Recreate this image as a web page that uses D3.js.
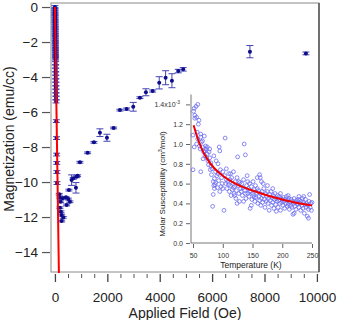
<!DOCTYPE html>
<html>
<head>
<meta charset="utf-8">
<script src="https://cdn.jsdelivr.net/npm/d3@7"></script>
<style>
  body { margin: 0; background: #fff; }
  text { font-family: "Liberation Sans", Arial, sans-serif; }
</style>
</head>
<body>
<div id="chart"></div>
<script>
// low field points, they sit on the linear fit
const lowField = [0, 1, 2, 2, 3, 4, 5, 6, 6, 7, 8, 9, 10, 10, 11, 12, 13, 14, 14, 15, 16, 17, 18, 18, 19, 20, 21, 22, 22, 23,
  24, 26, 27, 29, 30, 32, 34, 35, 37, 38, 40, 42, 43, 52, 60, 67, 71, 75, 80]
const lowMag = [0, -0.1, -0.2, -0.3, -0.4, -0.5, -0.6, -0.7, -0.8, -0.9, -1.0, -1.1, -1.2, -1.3, -1.4, -1.5, -1.6, -1.7, -1.8, -1.9,
  -2.0, -2.1, -2.2, -2.3, -2.4, -2.5, -2.6, -2.7, -2.8, -2.9,
  -3.0, -3.2, -3.4, -3.6, -3.8, -4.0, -4.2, -4.4, -4.6, -4.8, -5.0, -5.2, -5.4, -6.52, -7.49, -8.43, -8.91, -9.43, -10.06]

const field = [164, 191, 294, 420, 508, 573, 447, 218, 191, 229, 256, 317, 256, 534, 637, 699, 828, 866, 802,
  954, 1248, 1489, 1718, 1985, 2240, 2481, 2737, 2989, 3244, 3473, 3729, 3981, 4225, 4466, 4706, 4897, 7443, 9581]
const mag = [-10.70, -10.90, -10.93, -10.87, -10.97, -11.13, -11.31, -11.13, -11.47, -11.70, -11.89, -12.02, -12.23, -10.46, -9.89, -9.79, -9.70, -9.64, -10.33,
  -8.87, -8.33, -7.73, -7.18, -7.47, -6.91, -5.89, -5.83, -5.70, -5.18, -4.87, -4.80, -4.33, -4.04, -4.21, -3.66, -3.56, -2.55, -2.65]
const magErr = [0.05, 0.05, 0.05, 0.05, 0.05, 0.05, 0.05, 0.05, 0.05, 0.05, 0.05, 0.05, 0.05, 0.05, 0.3, 0.05, 0.05, 0.05, 0.3,
  0.05, 0.05, 0.05, 0.22, 0.2, 0.05, 0.05, 0.06, 0.25, 0.05, 0.2, 0.06, 0.35, 0.4, 0.4, 0.1, 0.1, 0.35, 0.08]

const fitField = [0, 152]
const fitMag = [0, -15.2]

const xTicks = [0, 2000, 4000, 6000, 8000, 10000]
const yTicks = [0, -2, -4, -6, -8, -10, -12, -14]

// inset: molar susceptibility vs temperature
const chiPts = [
  [51,1.33],[52,1.36],[53,1.29],[55,1.38],[58,1.40],[56,1.27],[60,1.24],[59,1.20],[53,1.26],[50,1.09],[52,0.97],[56,1.00],
  [63,1.10],[63,1.07],[64,1.02],[50,0.74],[57,1.12],[61,0.98],[58,1.05],[62,0.95],
  [66,0.97],[68,0.92],[70,0.88],[72,0.95],[74,0.90],[75,0.83],[66,1.03],[69,1.08],[71,0.98],[73,0.86],[76,0.79],[77,0.92],
  [78,0.86],[79,0.74],[80,0.81],[67,0.85],[74,0.97],[78,0.95],[80,0.78],[70,0.93],[63,0.72],
  [81,0.69],[82,0.75],[84,0.62],[85,0.58],[86,0.65],[87,0.59],[88,0.72],[90,0.68],[91,0.56],[92,0.80],[93,0.63],[94,0.97],
  [95,0.93],[96,0.74],[97,0.57],[98,0.66],[99,0.60],[84,0.49],[83,0.37],[86,0.55],[89,0.83],[92,0.70],[95,0.52],[100,0.72],
  [100,0.55],[85,0.88],[88,0.61],
  [102,0.33],[104,1.06],[103,0.68],[105,0.60],[106,0.75],[107,0.55],[108,0.62],[110,0.70],[111,0.52],[112,0.64],[113,0.58],
  [114,0.48],[115,0.66],[116,0.54],[117,0.60],[118,0.72],[119,0.50],[120,0.57],[121,0.62],[122,0.45],[123,0.53],[124,0.66],
  [125,0.87],[126,0.58],[127,0.50],[128,0.42],[129,0.61],[130,0.55],[124,0.40],[110,0.59],[118,0.56],[106,0.64],[113,0.70],
  [127,0.62],[120,0.48],
  [131,0.52],[132,0.60],[133,0.48],[134,0.56],[135,0.64],[136,1.00],[137,0.53],[138,0.89],[139,0.45],[140,0.58],[141,0.68],
  [142,0.50],[143,0.55],[144,0.47],[145,0.60],[146,0.35],[147,0.52],[148,0.57],[149,0.44],[150,0.50],[151,0.62],[152,0.48],
  [153,0.54],[154,0.42],[155,0.58],[156,0.46],[157,0.51],[158,0.66],[159,0.40],[160,0.53],[135,0.42],[142,0.62],[148,0.38],
  [153,0.46],[158,0.55],[138,0.50],[145,0.52],[162,0.69],[163,0.66],[165,0.62],
  [161,0.47],[162,0.43],[163,0.50],[164,0.38],[165,0.45],[166,0.52],[167,0.41],[168,0.48],[169,0.55],[170,0.44],[171,0.36],
  [172,0.50],[173,0.42],[174,0.47],[175,0.58],[176,0.40],[177,0.45],[178,0.33],[179,0.49],[180,0.43],[181,0.52],[182,0.38],
  [183,0.46],[184,0.41],[185,0.48],[186,0.35],[187,0.44],[188,0.50],[189,0.39],[190,0.45],[191,0.42],[192,0.48],[193,0.36],
  [194,0.43],[195,0.47],[196,0.40],[197,0.33],[198,0.45],[199,0.41],[200,0.44],[168,0.60],[175,0.52],[184,0.55],[190,0.32],
  [197,0.50],
  [201,0.38],[202,0.46],[203,0.42],[204,0.35],[205,0.44],[206,0.40],[207,0.47],[208,0.37],[209,0.43],[210,0.39],[211,0.45],
  [212,0.34],[213,0.41],[214,0.38],[215,0.44],[216,0.36],[217,0.42],[218,0.29],[219,0.40],[220,0.45],[221,0.37],[222,0.41],
  [223,0.34],[224,0.43],[225,0.40],[226,0.39],[227,0.44],[228,0.36],[229,0.43],[230,0.40],[231,0.33],[232,0.42],[233,0.38],
  [234,0.45],[235,0.35],[236,0.41],[237,0.30],[238,0.39],[239,0.44],[240,0.36],[241,0.40],[242,0.27],[243,0.38],[244,0.34],
  [245,0.42],[246,0.49],[247,0.36],[248,0.40],[249,0.33],[250,0.41],[244,0.25],[236,0.47],[210,0.48],[228,0.47],[220,0.30]
]
const curveT = [51, 60, 67, 75, 85, 100, 115, 130, 150, 175, 200, 225, 250]
const curveChi = [1.19, 1.02, 0.92, 0.84, 0.76, 0.68, 0.62, 0.575, 0.53, 0.48, 0.44, 0.405, 0.38]
const insetXTicks = [50, 100, 150, 200, 250]
const insetYTicks = [0, 0.2, 0.4, 0.6, 0.8, 1.0, 1.2, 1.4]

const width = 338
const height = 320

const svg = d3.select("#chart").append("svg")
    .attr("width", width)
    .attr("height", height)

const x = d3.scaleLinear().domain([-150, 10080]).range([51, 319])
const y = d3.scaleLinear().domain([0.23, -15.14]).range([3, 272])

const dark = "#0c0c8c"
const errCol = "#4444b4"

// frame
svg.append("rect")
    .attr("x", 51).attr("y", 3)
    .attr("width", 268).attr("height", 269)
    .attr("fill", "none")
    .attr("stroke", "#8a8a8a")
    .attr("stroke-width", 1)
svg.append("line")
    .attr("x1", 319).attr("x2", 319).attr("y1", 3).attr("y2", 272)
    .attr("stroke", "#555").attr("stroke-width", 1.5)

// x axis with minor ticks
const xMinor = d3.range(0, 10001, 500).filter(d => d % 2000 != 0)
svg.append("g")
    .attr("transform", "translate(0,274)")
    .call(d3.axisBottom(x).tickValues(xMinor).tickSize(4).tickFormat(""))
    .call(g => g.select(".domain").remove())
    .selectAll("line").attr("stroke", "#555")
svg.append("g")
    .attr("class", "xaxis")
    .attr("transform", "translate(0,274)")
    .call(d3.axisBottom(x).tickValues(xTicks).tickSize(8).tickPadding(10).tickFormat(d3.format("d")))
    .call(g => g.select(".domain").remove())
svg.select(".xaxis").selectAll("line").attr("stroke", "#444").attr("stroke-width", 1.3)
svg.select(".xaxis").selectAll("text")
    .style("font-size", "13.5px").attr("fill", "#222")

svg.append("g")
    .attr("class", "yaxis")
    .attr("transform", "translate(50,0)")
    .call(d3.axisLeft(y).tickValues(yTicks).tickSize(8).tickPadding(4).tickFormat(d3.format("d")))
    .call(g => g.select(".domain").remove())
svg.select(".yaxis").selectAll("line").attr("stroke", "#555").attr("stroke-width", 1.2)
svg.select(".yaxis").selectAll("text")
    .style("font-size", "13.5px").attr("fill", "#222")

svg.append("text")
    .attr("x", 185).attr("y", 318)
    .attr("text-anchor", "middle")
    .style("font-size", "14px").attr("fill", "#222")
    .text("Applied Field (Oe)")
svg.append("text")
    .attr("transform", "translate(14,139) rotate(-90)")
    .attr("text-anchor", "middle")
    .style("font-size", "14px").attr("fill", "#222")
    .text("Magnetization (emu/cc)")

// data points
const lowData = lowField.map((h, i) => ({h: h, m: lowMag[i], e: 0.08}))
const mainData = field.map((h, i) => ({h: h, m: mag[i], e: magErr[i]}))
const allPts = lowData.concat(mainData)

const plot = svg.append("g")
const bars = plot.selectAll(".err")
    .data(allPts)
    .enter()
    .append("g")
    .attr("class", "err")
    .attr("stroke", errCol)
    .attr("stroke-width", 1)
bars.append("line")
    .attr("x1", d => x(d.h)).attr("x2", d => x(d.h))
    .attr("y1", d => y(d.m - d.e)).attr("y2", d => y(d.m + d.e))
bars.append("line")
    .attr("x1", d => x(d.h) - 3.5).attr("x2", d => x(d.h) + 3.5)
    .attr("y1", d => y(d.m - d.e)).attr("y2", d => y(d.m - d.e))
bars.append("line")
    .attr("x1", d => x(d.h) - 3.5).attr("x2", d => x(d.h) + 3.5)
    .attr("y1", d => y(d.m + d.e)).attr("y2", d => y(d.m + d.e))

plot.selectAll(".pt")
    .data(allPts)
    .enter()
    .append("circle")
    .attr("class", "pt")
    .attr("cx", d => x(d.h))
    .attr("cy", d => y(d.m))
    .attr("r", 2)
    .attr("fill", dark)

// linear fit
svg.append("path")
    .datum(fitField.map((h, i) => [h, fitMag[i]]))
    .attr("fill", "none")
    .attr("stroke", "#ff0000")
    .attr("stroke-width", 2)
    .attr("d", d3.line().x(d => x(d[0])).y(d => y(d[1])))

// ---- inset ----
const xi = d3.scaleLinear().domain([46.6, 250]).range([191, 312])
const yi = d3.scaleLinear().domain([0, 1.5]).range([243, 94.5])

const inset = svg.append("g")
inset.append("line")
    .attr("x1", 191).attr("x2", 191).attr("y1", 94.5).attr("y2", 243)
    .attr("stroke", "#777")
inset.append("line")
    .attr("x1", 191).attr("x2", 312).attr("y1", 243).attr("y2", 243)
    .attr("stroke", "#777")

inset.append("g")
    .attr("class", "ix")
    .attr("transform", "translate(0,244)")
    .call(d3.axisBottom(xi).tickValues(insetXTicks).tickSize(4).tickPadding(5).tickFormat(d3.format("d")))
    .call(g => g.select(".domain").remove())
inset.append("g")
    .attr("class", "iy")
    .attr("transform", "translate(190,0)")
    .call(d3.axisLeft(yi).tickValues(insetYTicks).tickSize(4).tickPadding(3)
        .tickFormat(d => d == 1.4 ? "" : d3.format(".1f")(d)))
    .call(g => g.select(".domain").remove())
inset.selectAll(".ix line, .iy line").attr("stroke", "#666")
inset.selectAll(".ix text, .iy text").style("font-size", "7px").attr("fill", "#333")

const topLab = inset.append("text")
    .attr("x", 180).attr("y", yi(1.4) + 2.5)
    .attr("text-anchor", "end")
    .style("font-size", "7px").attr("fill", "#333")
topLab.append("tspan").text("1.4x10")
topLab.append("tspan").attr("dy", -3).style("font-size", "5px").text("-3")

inset.append("text")
    .attr("x", 251).attr("y", 268)
    .attr("text-anchor", "middle")
    .style("font-size", "8.5px").attr("fill", "#222")
    .text("Temperature (K)")
const ylab = inset.append("text")
    .attr("transform", "translate(165,184) rotate(-90)")
    .attr("text-anchor", "middle")
    .style("font-size", "8px").attr("fill", "#222")
ylab.append("tspan").text("Molar Susceptibility (cm")
ylab.append("tspan").attr("dy", -3).style("font-size", "5.5px").text("3")
ylab.append("tspan").attr("dy", 3).text("/mol)")

inset.selectAll(".chi")
    .data(chiPts)
    .enter()
    .append("circle")
    .attr("class", "chi")
    .attr("cx", d => xi(d[0]))
    .attr("cy", d => yi(d[1]))
    .attr("r", 1.9)
    .attr("fill", "none")
    .attr("stroke", "#6c6cf0")
    .attr("stroke-width", 0.8)

inset.append("path")
    .datum(curveT.map((t, i) => [t, curveChi[i]]))
    .attr("fill", "none")
    .attr("stroke", "#ee0000")
    .attr("stroke-width", 2)
    .attr("d", d3.line().curve(d3.curveMonotoneX).x(d => xi(d[0])).y(d => yi(d[1])))
</script>
</body>
</html>
